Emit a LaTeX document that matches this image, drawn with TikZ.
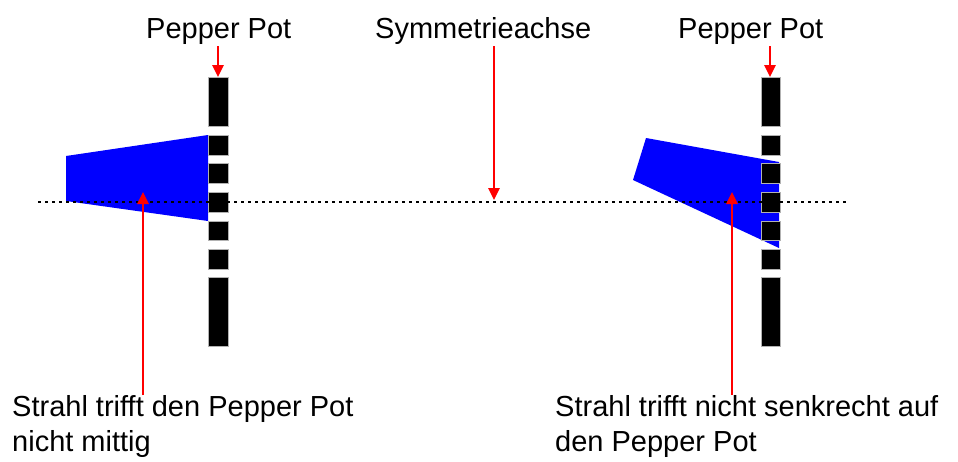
\documentclass[tikz,border=0pt]{standalone}
\usepackage{fontspec}
\setmainfont{Liberation Sans}
\usetikzlibrary{arrows.meta}
\tikzset{
  lbl/.style={font=\fontsize{29}{35}\selectfont, inner sep=0pt, align=left},
  pin/.style={-{Triangle[length=12pt,width=11pt]}, red, line width=2.6pt},
  beam/.style={fill=blue, draw=none},
  pot/.style={fill=black, draw=gray!60, line width=0.6pt},
  axis/.style={line width=2.8pt, dash pattern=on 2.8pt off 4.2pt, line cap=butt},
}
\begin{document}
\begin{tikzpicture}[x=1pt, y=-1pt]
\useasboundingbox (0,0) rectangle (958,461);
% beams
\fill[beam] (66,156) -- (208,135) -- (208,221) -- (66,201) -- cycle;
\fill[beam] (646,138) -- (779,162) -- (779,248) -- (633,180) -- cycle;
% pepper pots
\foreach \xa/\xb in {208/228, 761/780} {
  \foreach \ya/\yb in {77/126, 135/155, 163/183, 192/212, 221/240, 249/269, 277/346}
    \filldraw[pot] (\xa,\ya) rectangle (\xb,\yb);
}
% axis
\coordinate (axL) at (38,202);
\coordinate (axR) at (848,202);
\draw[axis] (axL) -- (axR);
% labels
\node[lbl, anchor=base west] (ppL) at (146,38) {Pepper Pot};
\node[lbl, anchor=base west] (sym) at (375,38) {Symmetrieachse};
\node[lbl, anchor=base west] (ppR) at (678,38) {Pepper Pot};
\node[lbl, anchor=north west] (txL) at (12,395) {Strahl trifft den Pepper Pot\\nicht mittig};
\node[lbl, anchor=north west] (txR) at (555,395) {Strahl trifft nicht senkrecht auf\\den Pepper Pot};
% arrow tips
\coordinate (tpL) at (218,77);
\coordinate (tpR) at (770,77);
\coordinate (tsym) at (494,200);
\coordinate (tbL) at (143,192);
\coordinate (tbR) at (732,192);
\draw[pin] (tpL |- ppL.south) ++(0,2) -- (tpL);
\draw[pin] (tpR |- ppR.south) ++(0,2) -- (tpR);
\draw[pin] (tsym |- sym.south) ++(0,2) -- (tsym);
\draw[pin] (tbL |- txL.north) -- (tbL);
\draw[pin] (tbR |- txR.north) -- (tbR);
\end{tikzpicture}
\end{document}
